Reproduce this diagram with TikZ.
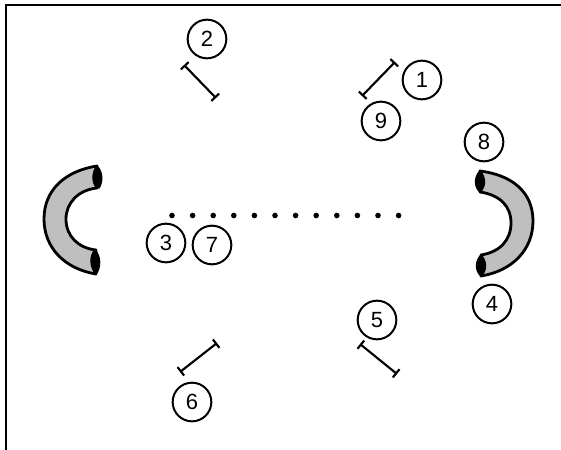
\documentclass[tikz,border=0pt]{standalone}
\usepackage{fontspec}
\setmainfont{Liberation Sans}
\usetikzlibrary{arrows.meta}
\tikzset{
  num/.style={circle,draw=black,line width=1.5pt,minimum size=29pt,inner sep=0pt,font=\fontsize{16.5pt}{18pt}\selectfont},
  bar/.style={line width=1.6pt,black,{|[width=8pt,line width=1.6pt]}-{|[width=8pt,line width=1.6pt]}},
  pipe/.style={draw=black,fill=black!25,line width=2.1pt,line join=round},
  pipeend/.style={draw=black,fill=black,line width=1pt,line join=round},
  dotmark/.style={circle,fill=black,inner sep=0pt,minimum size=4.2pt}
}
\begin{document}
\begin{tikzpicture}[x=0.75pt,y=-0.75pt]
\useasboundingbox (0,0) rectangle (561,450);
\draw[line width=1.3pt] (6,450) -- (6,5) -- (561,5);
% left magnet
\draw[pipe] (97,166) .. controls (65,171) and (44,190) .. (44,219) .. controls (44,248) and (65,269) .. (96,274)
  -- (96,250) .. controls (78,248) and (66,236) .. (66,219) .. controls (66,203) and (78,190) .. (97,188) -- cycle;
\draw[pipeend] (97,166) .. controls (103,172) and (103,182) .. (99,188) .. controls (92,188) and (91,172) .. (97,166) -- cycle;
\draw[pipeend] (95,250) .. controls (101,256) and (101,268) .. (96,274) .. controls (90,268) and (89,256) .. (95,250) -- cycle;
% right magnet
\draw[pipe] (480,171) .. controls (512,175) and (533,192) .. (533,221) .. controls (533,250) and (512,271) .. (481,276)
  -- (481,255) .. controls (500,252) and (511,240) .. (511,223) .. controls (511,206) and (500,195) .. (480,192) -- cycle;
\draw[pipeend] (480,171) .. controls (474,177) and (474,187) .. (480,192) .. controls (486,187) and (486,177) .. (480,171) -- cycle;
\draw[pipeend] (481,255) .. controls (475,261) and (475,271) .. (481,276) .. controls (487,271) and (487,261) .. (481,255) -- cycle;
% numbered circles
\node[num] (n1) at (422,80) {1};
\node[num] (n2) at (207,39) {2};
\node[num] (n3) at (166,243) {3};
\node[num] (n4) at (492,304) {4};
\node[num] (n5) at (377,320) {5};
\node[num] (n6) at (192,402) {6};
\node[num] (n7) at (212,245) {7};
\node[num] (n8) at (484,142) {8};
\node[num] (n9) at (381,121) {9};
% bars
\coordinate (b1a) at (362,96); \coordinate (b1b) at (395,62);
\coordinate (b2a) at (184,65); \coordinate (b2b) at (216,98);
\coordinate (b5a) at (360,344); \coordinate (b5b) at (397,374);
\coordinate (b6a) at (180,372); \coordinate (b6b) at (217,343);
\draw[bar] (b1a) -- (b1b);
\draw[bar] (b2a) -- (b2b);
\draw[bar] (b5a) -- (b5b);
\draw[bar] (b6a) -- (b6b);
% dots
\foreach \i in {0,...,11} \node[dotmark] (d\i) at ({172+\i*20.6},215.5) {};
\end{tikzpicture}
\end{document}
